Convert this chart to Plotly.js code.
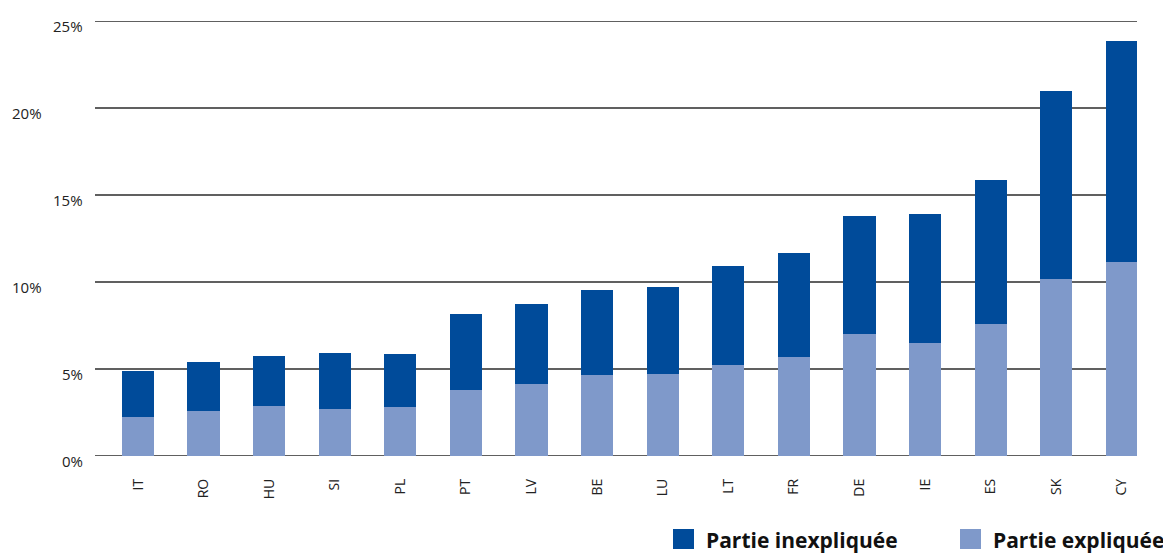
<!DOCTYPE html>
<html><head><meta charset="utf-8">
<script src="https://cdn.plot.ly/plotly-3.0.1.min.js"></script>
<style>body{margin:0;background:#fff}#c{width:1163px;height:554px}</style>
</head><body><div id="c"></div>
<script>
const countries = ["IT","RO","HU","SI","PL","PT","LV","BE","LU","LT","FR","DE","IE","ES","SK","CY"];
const explained = [2.26,2.59,2.87,2.70,2.82,3.79,4.16,4.66,4.73,5.25,5.71,7.03,6.51,7.60,10.19,11.15];
const totals    = [4.89,5.40,5.75,5.92,5.86,8.16,8.74,9.54,9.71,10.92,11.67,13.79,13.91,15.86,20.98,23.85];
const unexplained = totals.map((t,i)=>+(t-explained[i]).toFixed(2));
const yTickVals = [0,5,10,15,20,25];
const yTickText = ["0%","5%","10%","15%","20%","25%"];
const seriesNames = ["Partie inexpliquée","Partie expliquée"];

const DARK = "#004b9a", LIGHT = "#7f99ca";
const W = 1163, L = 95, R = 1137;
const px = p => (p - L) / (R - L);

const traces = [
  {type:"bar", x:countries, y:explained, name:seriesNames[1], marker:{color:LIGHT}, width:0.49, showlegend:false, hoverinfo:"y"},
  {type:"bar", x:countries, y:unexplained, name:seriesNames[0], marker:{color:DARK}, width:0.49, showlegend:false, hoverinfo:"y"}
];

const font = "'Open Sans', 'DejaVu Sans', sans-serif";
const shapes = yTickVals.map(v => ({type:"line", xref:"paper", yref:"y", x0:0, x1:1, y0:v, y1:v,
  layer:"below", line:{color:"#2b2b2b", width:1.6}}));
const annotations = yTickVals.map((v,i)=>{
  const leftAligned = (v===10 || v===20);
  return {xref:"paper", yref:"y", x: leftAligned ? px(10) : px(85), y:v,
    xanchor: leftAligned ? "left" : "right", yanchor:"middle", yshift:-5,
    text:yTickText[i], showarrow:false, font:{family:font, size:15, color:"#222"}};
});
// legend
const legX = [673, 960];
const legendItems = [{name:seriesNames[0], color:DARK}, {name:seriesNames[1], color:LIGHT}];
const PH = 456 - 21;
legendItems.forEach((it,i)=>{
  shapes.push({type:"rect", xref:"paper", yref:"paper", x0:px(legX[i]), x1:px(legX[i]+21),
    y0:-(549-456)/PH, y1:-(529-456)/PH, fillcolor:it.color, line:{width:0}});
  annotations.push({xref:"paper", yref:"paper", x:px(legX[i]+31), y:-(540-456)/PH,
    xanchor:"left", yanchor:"middle", text:"<b>"+it.name+"</b>", showarrow:false,
    font:{family:font, size:21, color:"#111"}});
});

const layout = {
  width:W, height:554, barmode:"stack", bargap:0.5,
  margin:{l:L, r:W-R, t:21, b:98, pad:0},
  paper_bgcolor:"#fff", plot_bgcolor:"#fff",
  xaxis:{type:"category", range:[-0.655,15.23], tickangle:-90, showgrid:false, zeroline:false,
    showline:false, ticks:"", ticklabelstandoff:19, tickfont:{family:font, size:14, color:"#222"}},
  yaxis:{range:[0,25], tickvals:yTickVals, showticklabels:false, showgrid:false,
    zeroline:false, showline:false, ticks:""},
  annotations, shapes, showlegend:false
};
Plotly.newPlot("c", traces, layout, {displayModeBar:false, staticPlot:true});
</script></body></html>
